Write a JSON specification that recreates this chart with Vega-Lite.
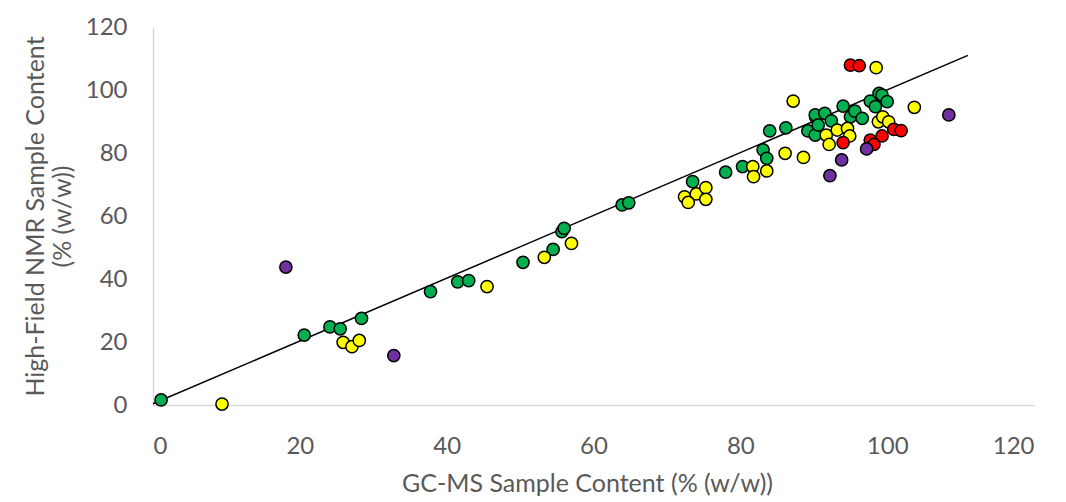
{
  "$schema": "https://vega.github.io/schema/vega-lite/v6.json",
  "width": 881,
  "height": 378,
  "autosize": "none",
  "padding": {"left": 153, "top": 27, "right": 32, "bottom": 97},
  "background": "white",
  "config": {"view": {"stroke": null}, "font": "Lato"},
  "datasets": {
    "points": [
      {"gc": 1.1, "nmr": 1.6, "group": "A"},
      {"gc": 20.6, "nmr": 22.2, "group": "A"},
      {"gc": 24.1, "nmr": 24.8, "group": "A"},
      {"gc": 25.5, "nmr": 24.2, "group": "A"},
      {"gc": 28.4, "nmr": 27.5, "group": "A"},
      {"gc": 37.8, "nmr": 36.0, "group": "A"},
      {"gc": 41.5, "nmr": 39.1, "group": "A"},
      {"gc": 43.0, "nmr": 39.5, "group": "A"},
      {"gc": 50.4, "nmr": 45.3, "group": "A"},
      {"gc": 54.5, "nmr": 49.4, "group": "A"},
      {"gc": 55.7, "nmr": 55.0, "group": "A"},
      {"gc": 56.0, "nmr": 56.1, "group": "A"},
      {"gc": 63.9, "nmr": 63.5, "group": "A"},
      {"gc": 64.8, "nmr": 64.2, "group": "A"},
      {"gc": 73.5, "nmr": 70.9, "group": "A"},
      {"gc": 78.0, "nmr": 73.9, "group": "A"},
      {"gc": 80.3, "nmr": 75.7, "group": "A"},
      {"gc": 83.1, "nmr": 81.0, "group": "A"},
      {"gc": 83.6, "nmr": 78.3, "group": "A"},
      {"gc": 84.0, "nmr": 87.0, "group": "A"},
      {"gc": 86.2, "nmr": 88.0, "group": "A"},
      {"gc": 89.2, "nmr": 87.0, "group": "A"},
      {"gc": 90.2, "nmr": 85.7, "group": "A"},
      {"gc": 90.3, "nmr": 91.2, "group": "A"},
      {"gc": 90.2, "nmr": 92.1, "group": "A"},
      {"gc": 90.6, "nmr": 88.9, "group": "A"},
      {"gc": 91.5, "nmr": 92.6, "group": "A"},
      {"gc": 92.4, "nmr": 90.2, "group": "A"},
      {"gc": 94.0, "nmr": 94.9, "group": "A"},
      {"gc": 95.0, "nmr": 91.5, "group": "A"},
      {"gc": 95.6, "nmr": 93.3, "group": "A"},
      {"gc": 96.6, "nmr": 91.0, "group": "A"},
      {"gc": 97.7, "nmr": 96.5, "group": "A"},
      {"gc": 98.4, "nmr": 94.7, "group": "A"},
      {"gc": 98.9, "nmr": 98.9, "group": "A"},
      {"gc": 99.3, "nmr": 98.4, "group": "A"},
      {"gc": 100.0, "nmr": 96.3, "group": "A"},
      {"gc": 9.4, "nmr": 0.3, "group": "B"},
      {"gc": 25.9, "nmr": 19.9, "group": "B"},
      {"gc": 27.1, "nmr": 18.5, "group": "B"},
      {"gc": 28.1, "nmr": 20.5, "group": "B"},
      {"gc": 45.5, "nmr": 37.6, "group": "B"},
      {"gc": 53.3, "nmr": 46.9, "group": "B"},
      {"gc": 57.0, "nmr": 51.3, "group": "B"},
      {"gc": 72.4, "nmr": 66.1, "group": "B"},
      {"gc": 74.0, "nmr": 67.0, "group": "B"},
      {"gc": 75.3, "nmr": 69.0, "group": "B"},
      {"gc": 75.3, "nmr": 65.3, "group": "B"},
      {"gc": 72.9, "nmr": 64.3, "group": "B"},
      {"gc": 81.7, "nmr": 75.7, "group": "B"},
      {"gc": 81.8, "nmr": 72.5, "group": "B"},
      {"gc": 83.6, "nmr": 74.3, "group": "B"},
      {"gc": 86.1, "nmr": 79.9, "group": "B"},
      {"gc": 88.6, "nmr": 78.6, "group": "B"},
      {"gc": 87.2, "nmr": 96.5, "group": "B"},
      {"gc": 98.5, "nmr": 107.1, "group": "B"},
      {"gc": 103.7, "nmr": 94.5, "group": "B"},
      {"gc": 91.7, "nmr": 85.7, "group": "B"},
      {"gc": 93.2, "nmr": 87.3, "group": "B"},
      {"gc": 94.6, "nmr": 87.8, "group": "B"},
      {"gc": 94.9, "nmr": 85.4, "group": "B"},
      {"gc": 92.1, "nmr": 82.7, "group": "B"},
      {"gc": 98.8, "nmr": 89.9, "group": "B"},
      {"gc": 99.4, "nmr": 91.5, "group": "B"},
      {"gc": 100.2, "nmr": 89.9, "group": "B"},
      {"gc": 95.0, "nmr": 107.9, "group": "C"},
      {"gc": 96.2, "nmr": 107.7, "group": "C"},
      {"gc": 94.0, "nmr": 83.3, "group": "C"},
      {"gc": 99.3, "nmr": 85.4, "group": "C"},
      {"gc": 100.9, "nmr": 87.5, "group": "C"},
      {"gc": 101.9, "nmr": 87.1, "group": "C"},
      {"gc": 97.7, "nmr": 84.1, "group": "C"},
      {"gc": 98.2, "nmr": 82.7, "group": "C"},
      {"gc": 18.1, "nmr": 43.8, "group": "D"},
      {"gc": 32.8, "nmr": 15.7, "group": "D"},
      {"gc": 108.4, "nmr": 92.1, "group": "D"},
      {"gc": 97.2, "nmr": 81.3, "group": "D"},
      {"gc": 93.8, "nmr": 77.8, "group": "D"},
      {"gc": 92.2, "nmr": 72.8, "group": "D"}
    ],
    "trend": [
      {"gc": 0, "nmr": 0.4},
      {"gc": 111, "nmr": 111}
    ]
  },
  "layer": [
    {
      "data": {"name": "trend"},
      "mark": {"type": "line", "color": "black", "strokeWidth": 1.5},
      "encoding": {
        "x": {
          "field": "gc", "type": "quantitative",
          "scale": {"domain": [0, 120], "nice": false},
          "axis": {
            "values": [0, 20, 40, 60, 80, 100, 120],
            "title": "GC-MS Sample Content (% (w/w))",
            "grid": false, "ticks": false,
            "domainColor": "#d9d9d9", "domainWidth": 1.5,
            "labelFontSize": 24, "labelColor": "#595959", "labelPadding": 29,
            "labelFont": "Lato",
            "titleFontSize": 25, "titleColor": "#595959", "titleFontWeight": "normal",
            "titleFont": "Lato", "titlePadding": 13, "titleX": 434
          }
        },
        "y": {
          "field": "nmr", "type": "quantitative",
          "scale": {"domain": [0, 120], "nice": false},
          "axis": {
            "values": [0, 20, 40, 60, 80, 100, 120],
            "title": ["High-Field NMR Sample Content", "(% (w/w))"],
            "grid": false, "ticks": false,
            "domainColor": "#d9d9d9", "domainWidth": 1.5,
            "labelFontSize": 24, "labelColor": "#595959", "labelPadding": 26,
            "labelFont": "Lato",
            "titleFontSize": 25, "titleColor": "#595959", "titleFontWeight": "normal",
            "titleFont": "Lato", "titlePadding": 10, "titleLineHeight": 27
          }
        }
      }
    },
    {
      "data": {"name": "points"},
      "mark": {"type": "point", "filled": true, "shape": "circle", "size": 150, "stroke": "black", "strokeWidth": 1.5, "opacity": 1},
      "encoding": {
        "x": {"field": "gc", "type": "quantitative"},
        "y": {"field": "nmr", "type": "quantitative"},
        "fill": {
          "field": "group", "type": "nominal",
          "scale": {"domain": ["A", "B", "C", "D"], "range": ["#00B050", "#FFFF00", "#FF0000", "#7030A0"]},
          "legend": null
        }
      }
    },
    {
      "mark": {"type": "text", "fontSize": 23, "font": "Lato", "color": "black", "align": "center", "baseline": "middle", "text": "y = 0.9476x + 0.0886"},
      "encoding": {"x": {"datum": 92.0}, "y": {"datum": 19.6}}
    },
    {
      "mark": {"type": "text", "fontSize": 23, "font": "Lato", "color": "black", "align": "center", "baseline": "middle", "text": "R² = 0.9321"},
      "encoding": {"x": {"datum": 92.0}, "y": {"datum": 9.6}}
    }
  ]
}
